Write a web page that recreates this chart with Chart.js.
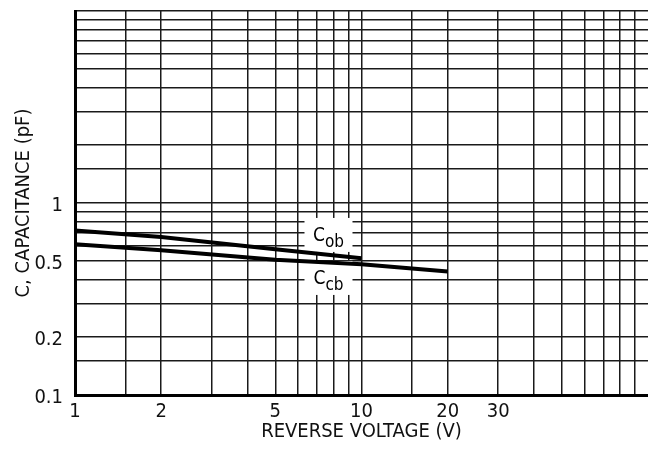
<!DOCTYPE html>
<html lang="en">
<head>
<meta charset="UTF-8">
<title>Capacitance vs Reverse Voltage</title>
<script src="https://cdn.jsdelivr.net/npm/chart.js"></script>
<style>
    html, body { margin: 0; padding: 0; background: #fff; }
    #capChart { display: block; }
</style>
</head>
<body>
<canvas id="capChart" width="648" height="450"></canvas>
<script>
    // Values (V, pF)
    const cobVolts = [1, 2, 5, 10];
    const cobPf = [0.72, 0.665, 0.575, 0.515];
    const ccbVolts = [1, 2, 5, 10, 20];
    const ccbPf = [0.61, 0.567, 0.507, 0.48, 0.44];

    // Log paper grid and the ticks that carry a label
    const xGrid = [1, 1.5, 2, 3, 4, 5, 6, 7, 8, 9, 10, 15, 20, 30, 40, 50, 60, 70, 80, 90];
    const xLabels = [1, 2, 5, 10, 20, 30];
    const yGrid = [0.1, 0.15, 0.2, 0.3, 0.4, 0.5, 0.6, 0.7, 0.8, 0.9, 1, 1.5, 2, 3, 4, 5, 6, 7, 8, 9, 10];
    const yLabels = [0.1, 0.2, 0.5, 1];

    // Curve names (C + subscript)
    const curveSubs = ['ob', 'cb'];

    const family = '"Liberation Sans Narrow", "Arial Narrow", "DejaVu Sans Condensed", sans-serif';
    const tickFont = { family: family, size: 20 };

    // White boxes with the curve names, placed in data units
    const tagSpots = [[7.67, 0.69], [7.67, 0.412]];
    const curveTags = {
        id: 'curveTags',
        beforeDatasetsDraw(chart) {
            const { ctx, scales: { x, y } } = chart;
            ctx.save();
            tagSpots.forEach((spot, i) => {
                const px = x.getPixelForValue(spot[0]);
                const py = y.getPixelForValue(spot[1]);
                ctx.fillStyle = '#fff';
                ctx.fillRect(px - 24, py - 16, 48, 34);
                ctx.font = '19px ' + family;
                const wC = ctx.measureText('C').width;
                ctx.font = '17px ' + family;
                const wSub = ctx.measureText(curveSubs[i]).width;
                const left = px - (wC + wSub) / 2;
                ctx.fillStyle = '#000';
                ctx.textBaseline = 'alphabetic';
                ctx.font = '19px ' + family;
                ctx.fillText('C', left, py + 7);
                ctx.font = '17px ' + family;
                ctx.fillText(curveSubs[i], left + wC, py + 13);
            });
            ctx.restore();
        }
    };

    const curve = (xs, ys, name) => ({
        label: name,
        data: xs.map((v, i) => ({ x: v, y: ys[i] })),
        showLine: true,
        borderColor: '#000',
        borderWidth: 4,
        pointRadius: 0,
        fill: false
    });

    new Chart(document.getElementById('capChart'), {
        type: 'scatter',
        data: {
            datasets: [
                curve(cobVolts, cobPf, 'Cob'),
                curve(ccbVolts, ccbPf, 'Ccb')
            ]
        },
        options: {
            responsive: false,
            animation: false,
            layout: { padding: { top: 11, right: 0, left: 0, bottom: 0 } },
            plugins: {
                legend: { display: false },
                tooltip: { enabled: false }
            },
            scales: {
                x: {
                    type: 'logarithmic',
                    min: 1,
                    max: 100,
                    afterBuildTicks: s => { s.ticks = xGrid.map(v => ({ value: v })); },
                    afterFit: s => {
                        s.height = 55;
                        s.paddingLeft = 0;
                        s.paddingRight = 0;
                    },
                    ticks: {
                        callback: v => xLabels.includes(v) ? String(v) : '',
                        autoSkip: false,
                        maxRotation: 0,
                        padding: 5,
                        font: tickFont,
                        color: '#111'
                    },
                    grid: { color: '#1a1a1a', lineWidth: 1.5, drawTicks: false },
                    border: { color: '#000', width: 3 },
                    title: {
                        display: true,
                        text: 'REVERSE VOLTAGE (V)',
                        font: tickFont,
                        color: '#111',
                        padding: { top: 0, bottom: 6 }
                    }
                },
                y: {
                    type: 'logarithmic',
                    min: 0.1,
                    max: 10,
                    afterBuildTicks: s => { s.ticks = yGrid.map(v => ({ value: v })); },
                    afterFit: s => {
                        s.width = 75;
                        s.paddingTop = 0;
                        s.paddingBottom = 0;
                    },
                    ticks: {
                        callback: v => yLabels.includes(v) ? String(v) : '',
                        autoSkip: false,
                        padding: 12,
                        labelOffset: 3,
                        font: tickFont,
                        color: '#111'
                    },
                    grid: { color: '#1a1a1a', lineWidth: 1.5, drawTicks: false },
                    border: { color: '#000', width: 3 },
                    title: {
                        display: true,
                        text: 'C, CAPACITANCE (pF)',
                        font: tickFont,
                        color: '#111',
                        padding: { top: 12, bottom: 0 }
                    }
                }
            }
        },
        plugins: [curveTags]
    });
</script>
</body>
</html>
